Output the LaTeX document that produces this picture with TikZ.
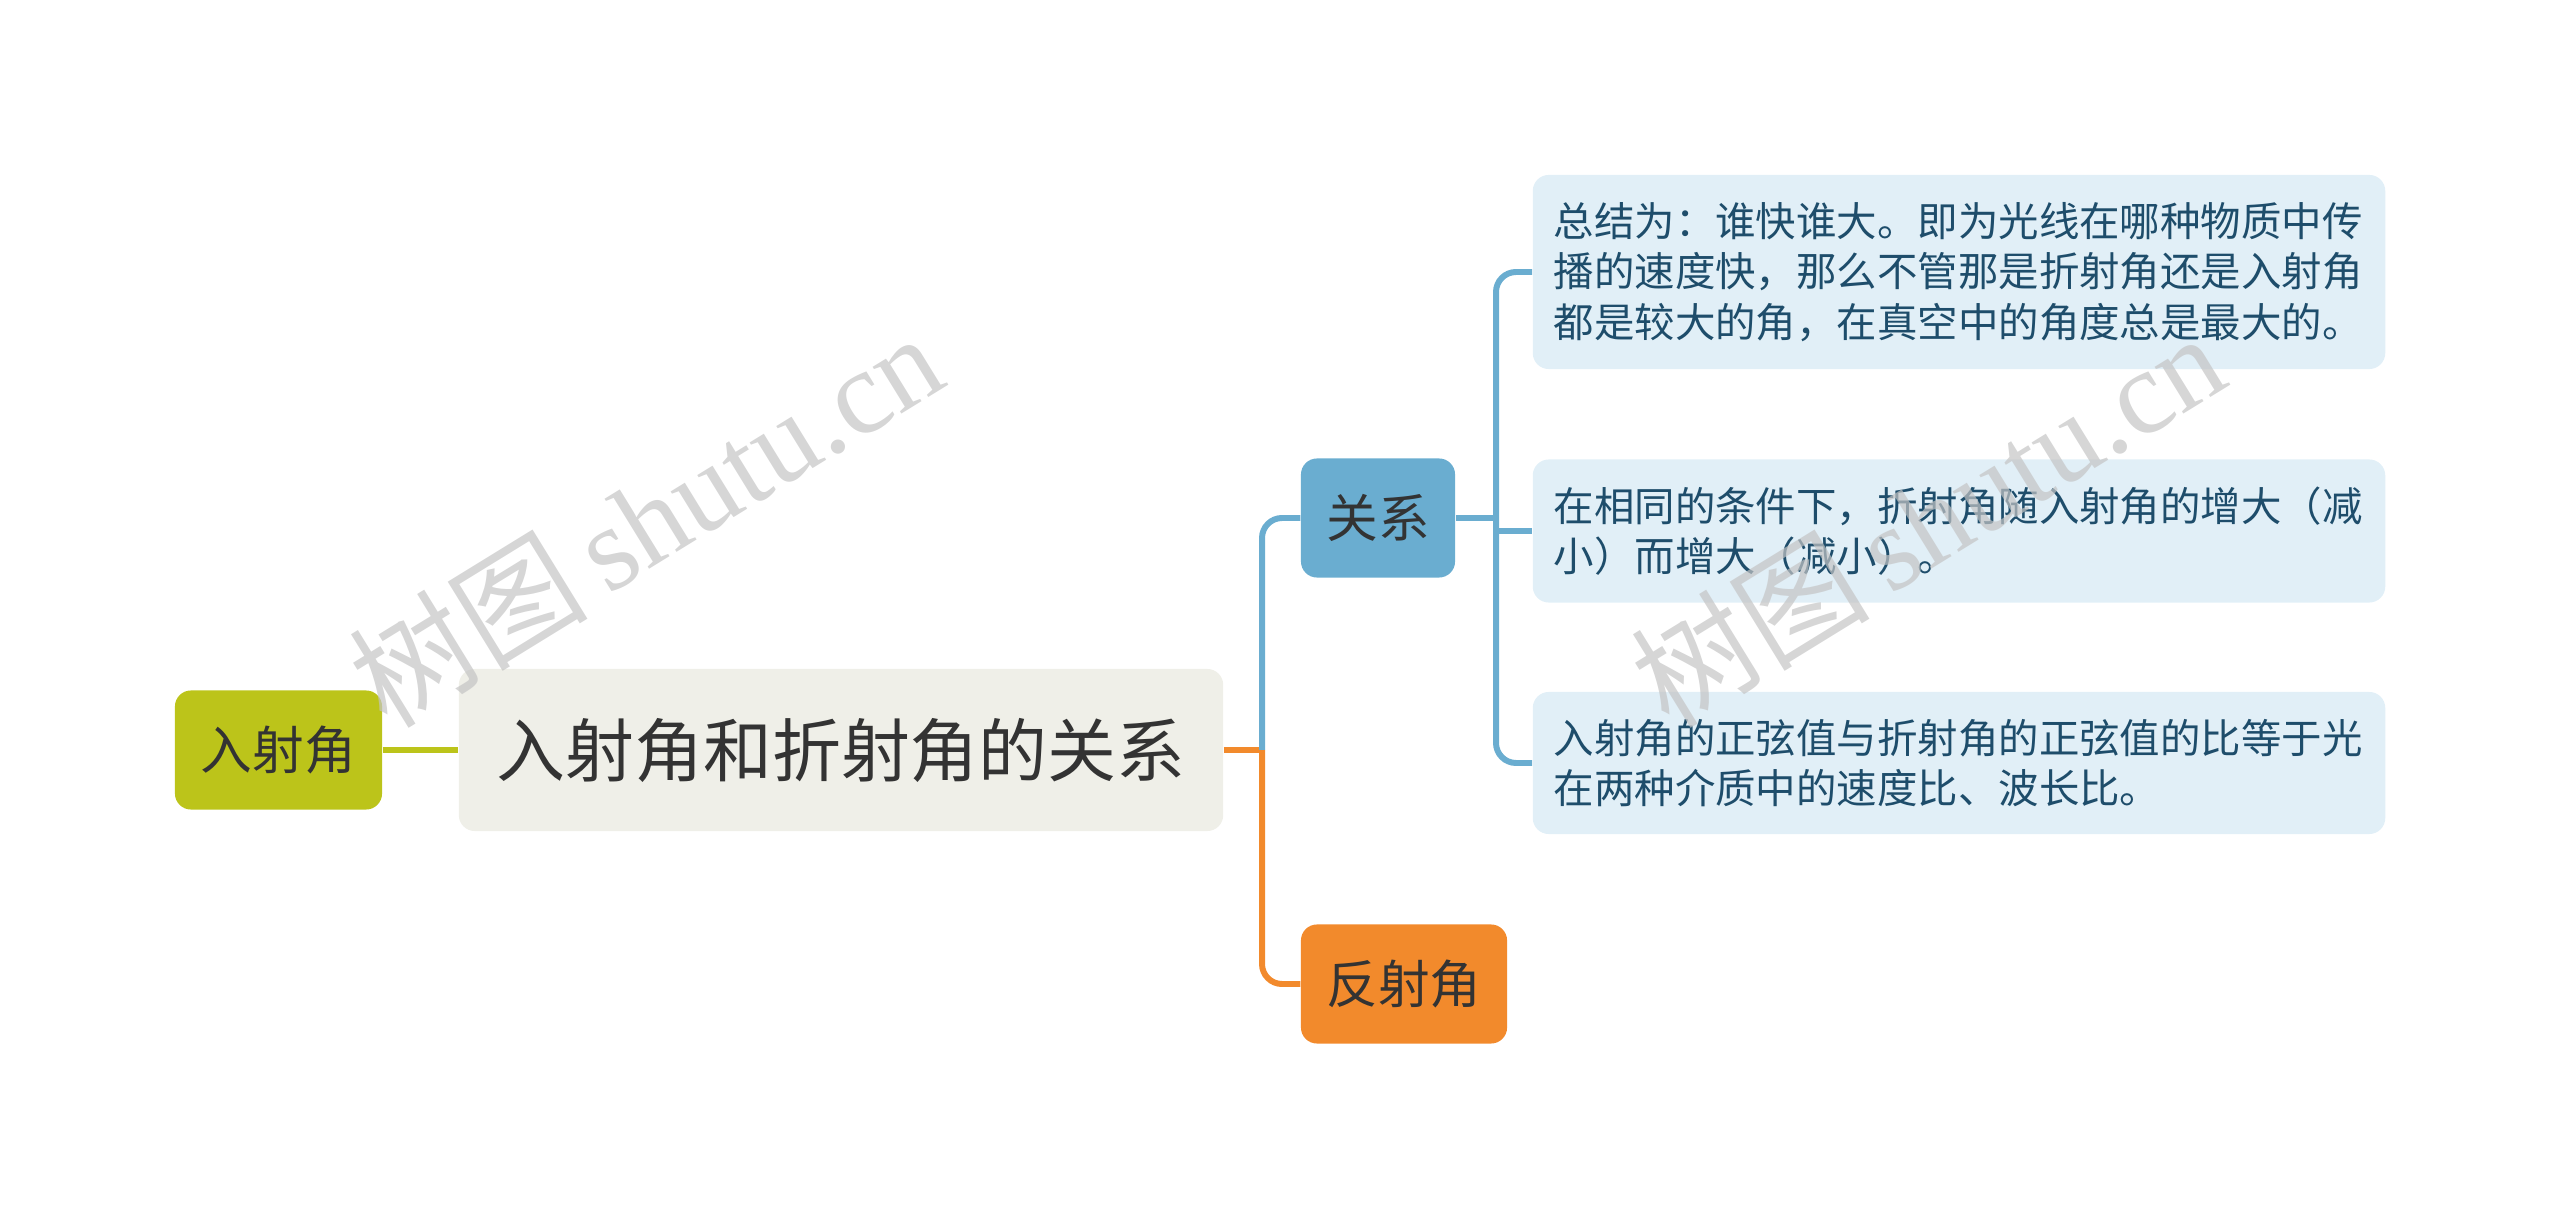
\documentclass[tikz,border=0pt]{standalone}
\usepackage{fontspec}
\setmainfont{Noto Sans CJK SC}
\newfontfamily\wmlatin{Liberation Serif}
\newfontfamily\wmcjk{Noto Sans CJK SC}
\definecolor{olivec}{HTML}{BCC41A}
\definecolor{centerfill}{HTML}{EFEFE8}
\definecolor{bluec}{HTML}{6AADD0}
\definecolor{orangec}{HTML}{F28A2C}
\definecolor{boxfill}{HTML}{E1EFF7}
\definecolor{boxtext}{HTML}{1E4D6B}
\definecolor{darktext}{HTML}{333333}
\definecolor{wmgray}{HTML}{C4C4C4}
\begin{document}
\begin{tikzpicture}[x=0.01cm,y=-0.01cm,
  topic/.style={rounded corners=0.16cm, inner sep=0pt, text=darktext,
    font=\fontsize{14.7pt}{17pt}\selectfont},
  leaf/.style={rounded corners=0.16cm, fill=boxfill, text=boxtext, align=left,
    text width=8.1cm, inner xsep=0.21cm, inner ysep=0pt, minimum height=#1,
    font=\fontsize{11.5pt}{14.4pt}\selectfont},
  link/.style={line width=1.7pt},
  wm/.style={text=wmgray, opacity=0.7, rotate=31.6, font=\fontsize{34pt}{38pt}\selectfont}
]
\useasboundingbox (0,0) rectangle (2560,1219);

\node[topic, fill=olivec, minimum width=2.07cm, minimum height=1.19cm] (L) at (278.5,750) {入射角};
\node[topic, fill=centerfill, minimum width=7.64cm, minimum height=1.62cm,
  font=\fontsize{19.6pt}{22pt}\selectfont] (C) at (841,750) {入射角和折射角的关系};
\node[topic, fill=bluec, minimum width=1.54cm, minimum height=1.19cm] (G) at (1378,518) {关系};
\node[topic, fill=orangec, minimum width=2.06cm, minimum height=1.19cm] (F) at (1404,984) {反射角};

\node[leaf=1.94cm] (B1) at (1959,272) {总结为：谁快谁大。即为光线在哪种物质中传\\播的速度快，那么不管那是折射角还是入射角\\都是较大的角，在真空中的角度总是最大的。};
\node[leaf=1.43cm] (B2) at (1959,531) {在相同的条件下，折射角随入射角的增大（减\\小）而增大（减小）。};
\node[leaf=1.42cm] (B3) at (1959,763) {入射角的正弦值与折射角的正弦值的比等于光\\在两种介质中的速度比、波长比。};

\coordinate (J) at (1262,750);
\coordinate (K) at (1496,518);

\draw[link, olivec] (L.east) -- (C.west);
\draw[link, orangec] (C.east) -- (J);
\draw[link, orangec, rounded corners=0.2cm] (J) |- (F.west);
\draw[link, bluec, rounded corners=0.2cm] (J) |- (G.west);
\draw[link, bluec] (G.east) -- (K);
\draw[link, bluec, rounded corners=0.2cm] (K) |- (B1.west);
\draw[link, bluec, rounded corners=0.2cm] (K) |- (B3.west);
\draw[link, bluec] (K |- B2.west) -- (B2.west);

\node[wm] (W1) at (645,519) {\wmcjk 树图\,\wmlatin shutu.cn};
\node[wm] (W2) at (1927,519) {\wmcjk 树图\,\wmlatin shutu.cn};
\end{tikzpicture}
\end{document}
